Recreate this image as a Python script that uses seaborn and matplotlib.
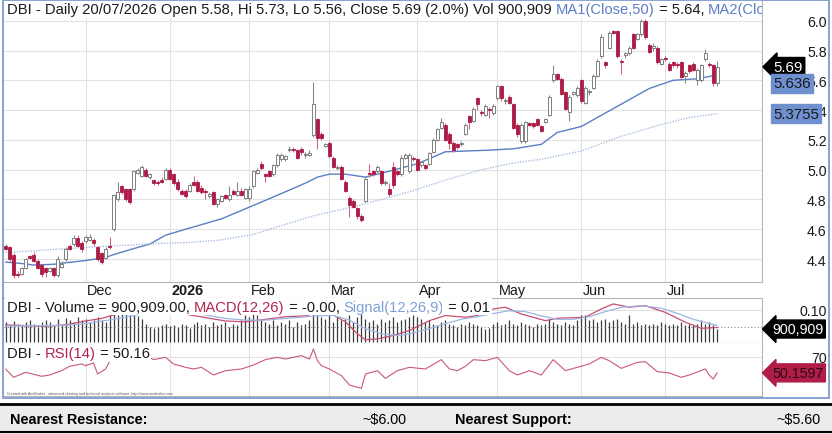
import matplotlib
matplotlib.use("Agg")
import numpy as np
import pandas as pd
import matplotlib.pyplot as plt
import seaborn as sns
from matplotlib import transforms
from matplotlib.patches import Rectangle

# ---- data ----
holidays = ["2025-12-25", "2025-12-26", "2026-01-01", "2026-01-26",
            "2026-04-03", "2026-04-06", "2026-06-08"]

opens = [4.49, 4.48, 4.43, 4.30, 4.30, 4.34, 4.42, 4.43, 4.39, 4.36,
         4.34, 4.32, 4.34, 4.29, 4.35, 4.40, 4.49, 4.50, 4.54, 4.51,
         4.52, 4.53, 4.53, 4.48, 4.44, 4.41, 4.49, 4.60, 4.80, 4.89,
         4.87, 4.87, 4.87, 4.98, 4.96, 5.00, 4.95, 4.93, 4.92, 4.93,
         4.94, 5.00, 4.97, 4.92, 4.86, 4.86, 4.86, 4.92, 4.92, 4.88,
         4.86, 4.82, 4.85, 4.77, 4.79, 4.83, 4.80, 4.86, 4.83, 4.86,
         4.81, 4.81, 4.89, 4.98, 5.04, 4.97, 4.99, 4.97, 5.03, 5.07,
         5.07, 5.13, 5.14, 5.13, 5.14, 5.10, 5.10, 5.23, 5.34, 5.24,
         5.16, 5.18, 5.08, 5.01, 5.02, 4.92, 4.81, 4.79, 4.74, 4.69,
         4.79, 4.98, 4.99, 4.99, 4.99, 4.91, 4.87, 5.02, 4.99, 4.97,
         5.08, 4.99, 5.08, 5.07, 5.03, 5.03, 5.04, 5.12, 5.20, 5.28,
         5.30, 5.24, 5.18, 5.17, 5.17, 5.24, 5.36, 5.33, 5.48, 5.39,
         5.37, 5.41, 5.38, 5.48, 5.56, 5.46, 5.49, 5.44, 5.30, 5.19,
         5.19, 5.31, 5.31, 5.34, 5.29, 5.32, 5.37, 5.60, 5.64, 5.61,
         5.52, 5.39, 5.51, 5.50, 5.60, 5.45, 5.52, 5.55, 5.63, 5.76,
         5.72, 5.82, 5.93, 5.93, 5.73, 5.77, 5.78, 5.91, 5.88, 5.91,
         6.00, 5.84, 5.82, 5.82, 5.71, 5.75, 5.71, 5.72, 5.71, 5.72,
         5.63, 5.70, 5.71, 5.60, 5.60, 5.74, 5.71, 5.70, 5.58]
highs = [4.50, 4.49, 4.44, 4.32, 4.35, 4.41, 4.43, 4.45, 4.40, 4.37,
         4.35, 4.35, 4.35, 4.42, 4.39, 4.48, 4.50, 4.56, 4.56, 4.52,
         4.56, 4.57, 4.54, 4.49, 4.45, 4.48, 4.55, 4.84, 4.92, 4.90,
         4.88, 4.88, 5.00, 5.01, 5.03, 5.01, 4.98, 4.94, 4.93, 4.95,
         5.01, 5.01, 4.98, 4.94, 4.87, 4.87, 4.91, 4.96, 4.93, 4.90,
         4.87, 4.85, 4.86, 4.81, 4.83, 4.84, 4.89, 4.87, 4.92, 4.88,
         4.88, 4.89, 5.00, 5.01, 5.06, 4.98, 5.00, 5.04, 5.11, 5.11,
         5.10, 5.16, 5.15, 5.14, 5.15, 5.12, 5.13, 5.59, 5.35, 5.25,
         5.18, 5.19, 5.09, 5.03, 5.03, 4.93, 4.82, 4.80, 4.75, 4.70,
         4.96, 5.04, 5.00, 5.03, 5.00, 4.93, 4.91, 5.05, 5.00, 5.10,
         5.11, 5.11, 5.09, 5.08, 5.06, 5.04, 5.12, 5.21, 5.28, 5.35,
         5.31, 5.25, 5.19, 5.18, 5.19, 5.31, 5.37, 5.42, 5.49, 5.40,
         5.44, 5.42, 5.44, 5.57, 5.57, 5.48, 5.50, 5.45, 5.31, 5.31,
         5.33, 5.32, 5.32, 5.35, 5.30, 5.35, 5.50, 5.70, 5.65, 5.62,
         5.53, 5.50, 5.53, 5.56, 5.61, 5.56, 5.54, 5.64, 5.74, 5.91,
         5.73, 5.93, 5.94, 5.94, 5.74, 5.79, 5.83, 5.92, 5.92, 6.01,
         6.01, 5.85, 5.85, 5.83, 5.75, 5.76, 5.72, 5.73, 5.72, 5.73,
         5.66, 5.71, 5.72, 5.68, 5.71, 5.81, 5.72, 5.71, 5.73]
lows = [4.46, 4.39, 4.27, 4.28, 4.29, 4.33, 4.40, 4.38, 4.33, 4.28,
        4.28, 4.31, 4.28, 4.28, 4.34, 4.39, 4.46, 4.49, 4.48, 4.45,
        4.51, 4.52, 4.49, 4.39, 4.37, 4.40, 4.47, 4.59, 4.79, 4.84,
        4.79, 4.77, 4.86, 4.97, 4.95, 4.95, 4.94, 4.90, 4.90, 4.91,
        4.93, 4.93, 4.90, 4.86, 4.83, 4.81, 4.85, 4.89, 4.85, 4.84,
        4.80, 4.81, 4.76, 4.75, 4.78, 4.80, 4.79, 4.83, 4.82, 4.82,
        4.80, 4.79, 4.88, 4.97, 5.00, 4.92, 4.95, 4.96, 5.02, 5.06,
        5.06, 5.12, 5.12, 5.07, 5.10, 5.08, 5.09, 5.22, 5.14, 5.20,
        5.15, 5.08, 5.01, 5.00, 4.93, 4.85, 4.68, 4.74, 4.67, 4.65,
        4.78, 4.95, 4.96, 4.98, 4.90, 4.90, 4.82, 4.88, 4.96, 4.96,
        5.07, 4.98, 5.06, 4.99, 5.02, 5.00, 5.03, 5.11, 5.19, 5.27,
        5.19, 5.14, 5.12, 5.14, 5.16, 5.23, 5.27, 5.32, 5.40, 5.36,
        5.36, 5.35, 5.37, 5.47, 5.46, 5.44, 5.44, 5.27, 5.22, 5.18,
        5.18, 5.29, 5.28, 5.29, 5.25, 5.31, 5.36, 5.59, 5.60, 5.50,
        5.40, 5.33, 5.50, 5.49, 5.45, 5.44, 5.50, 5.54, 5.62, 5.75,
        5.68, 5.81, 5.91, 5.75, 5.64, 5.75, 5.77, 5.81, 5.87, 5.90,
        5.88, 5.78, 5.80, 5.71, 5.70, 5.73, 5.66, 5.69, 5.68, 5.61,
        5.58, 5.65, 5.66, 5.57, 5.59, 5.73, 5.69, 5.56, 5.56]
closes = [4.47, 4.40, 4.29, 4.29, 4.34, 4.40, 4.41, 4.39, 4.34, 4.30,
          4.31, 4.34, 4.29, 4.40, 4.37, 4.47, 4.47, 4.54, 4.49, 4.47,
          4.55, 4.55, 4.51, 4.40, 4.38, 4.47, 4.48, 4.83, 4.85, 4.85,
          4.80, 4.78, 4.99, 5.00, 5.02, 4.96, 4.97, 4.91, 4.91, 4.92,
          5.00, 4.94, 4.91, 4.87, 4.84, 4.82, 4.90, 4.90, 4.86, 4.85,
          4.85, 4.84, 4.77, 4.80, 4.82, 4.81, 4.83, 4.84, 4.86, 4.83,
          4.87, 4.87, 4.99, 5.00, 5.01, 4.96, 4.96, 5.03, 5.10, 5.10,
          5.09, 5.14, 5.13, 5.08, 5.12, 5.10, 5.11, 5.44, 5.21, 5.21,
          5.17, 5.09, 5.02, 5.02, 4.94, 4.86, 4.76, 4.75, 4.69, 4.66,
          4.94, 4.97, 4.97, 5.02, 4.91, 4.92, 4.84, 4.90, 4.97, 5.08,
          5.10, 5.10, 5.07, 5.00, 5.05, 5.01, 5.11, 5.20, 5.27, 5.32,
          5.20, 5.18, 5.13, 5.15, 5.17, 5.30, 5.32, 5.41, 5.44, 5.38,
          5.43, 5.40, 5.43, 5.56, 5.48, 5.46, 5.45, 5.28, 5.24, 5.30,
          5.32, 5.30, 5.29, 5.30, 5.26, 5.34, 5.49, 5.64, 5.61, 5.51,
          5.41, 5.49, 5.52, 5.55, 5.46, 5.55, 5.52, 5.63, 5.73, 5.89,
          5.70, 5.92, 5.92, 5.76, 5.72, 5.78, 5.82, 5.82, 5.91, 6.00,
          5.89, 5.79, 5.83, 5.72, 5.74, 5.74, 5.67, 5.70, 5.70, 5.62,
          5.65, 5.66, 5.67, 5.67, 5.70, 5.78, 5.70, 5.58, 5.69]
volume = [1390, 1160, 1440, 1250, 1160, 1390, 1500, 1250, 1160, 1390,
          1500, 1390, 1160, 1620, 1270, 1680, 1500, 1390, 1740, 1560,
          1620, 1390, 1500, 1740, 1560, 1390, 1850, 1970, 1850, 1970,
          1970, 1900, 1850, 1800, 1620, 1270, 1040, 980, 1040, 1160,
          1270, 1100, 1160, 1040, 1270, 1160, 1000, 1270, 1390, 1160,
          1270, 1040, 1390, 1160, 1270, 1390, 1040, 1270, 1160, 1500,
          1850, 1740, 1970, 1850, 1620, 1390, 1270, 1500, 1160, 1390,
          1270, 1500, 1040, 1390, 1160, 1270, 1500, 1970, 1850, 1740,
          1620, 1850, 1390, 1740, 1500, 1620, 1850, 1390, 1740, 1970,
          1620, 1390, 1500, 1270, 1620, 1390, 1500, 1740, 1390, 1500,
          1620, 1740, 1850, 1740, 1620, 1390, 1500, 1270, 1160, 1390,
          1500, 1270, 1160, 1040, 1270, 1160, 1390, 1270, 1160, 1040,
          930, 980, 1270, 1390, 1160, 1270, 1500, 1270, 1160, 1390,
          1270, 1160, 1040, 1270, 1160, 1270, 1620, 1390, 1270, 1160,
          1390, 1270, 1160, 1500, 1850, 1850, 1500, 1620, 1390, 1500,
          1620, 1390, 1500, 1620, 1390, 1270, 1850, 1270, 1390, 1160,
          1270, 1160, 1270, 1160, 1390, 1270, 1160, 1270, 1160, 1390,
          1160, 1270, 1160, 1270, 1500, 1270, 1390, 1160, 900.909]

# moving averages (bar index, value)
ma1_x = [0, 4, 7, 12, 15, 20, 25, 27, 32, 36, 40, 45, 54, 62, 69, 75, 78, 81,
         85, 90, 96, 103, 110, 120, 127, 134, 138, 144, 150, 156, 161, 167, 173, 178]
ma1_y = [4.38, 4.37, 4.36, 4.365, 4.375, 4.39, 4.41, 4.43, 4.47, 4.50, 4.56, 4.60,
         4.67, 4.76, 4.84, 4.91, 4.95, 4.97, 4.97, 4.95, 4.99, 5.04, 5.12, 5.13,
         5.14, 5.17, 5.25, 5.29, 5.38, 5.47, 5.545, 5.60, 5.61, 5.636]
ma2_x = [0, 7, 15, 24, 32, 38, 45, 53, 62, 69, 77, 86, 94, 102, 110, 119, 127,
         134, 144, 154, 165, 171, 178]
ma2_y = [4.445, 4.455, 4.47, 4.485, 4.495, 4.505, 4.51, 4.525, 4.565, 4.625, 4.69,
         4.745, 4.80, 4.86, 4.93, 5.00, 5.045, 5.07, 5.125, 5.225, 5.31, 5.35, 5.3755]

# MACD(12,26) and signal line (bar index, value)
macd_x = [0, 5, 10, 15, 20, 24, 27, 30, 35, 40, 45, 50, 55, 60, 65, 70, 75, 78,
          82, 85, 88, 90, 93, 97, 101, 106, 110, 115, 118, 121, 125, 129, 135,
          138, 145, 149, 152, 156, 160, 165, 170, 174, 178]
macd_y = [0.012, 0.008, 0.005, 0.012, 0.035, 0.05, 0.07, 0.09, 0.11, 0.10, 0.075,
          0.055, 0.035, 0.03, 0.045, 0.06, 0.065, 0.085, 0.07, 0.03, -0.04, -0.075,
          -0.07, -0.05, -0.021, 0.037, 0.067, 0.057, 0.067, 0.102, 0.116, 0.076,
          0.037, 0.051, 0.057, 0.106, 0.135, 0.116, 0.125, 0.086, 0.028, -0.008, -0.003]
sig_x = [0, 10, 15, 20, 27, 35, 45, 50, 55, 60, 65, 70, 78, 82, 86, 90, 94, 98,
         101, 106, 110, 114, 118, 121, 126, 130, 134, 138, 142, 146, 150, 154,
         159, 164, 168, 172, 178]
sig_y = [0.005, 0.008, 0.010, 0.02, 0.045, 0.08, 0.085, 0.07, 0.05, 0.04, 0.04,
         0.05, 0.065, 0.068, 0.04, -0.01, -0.04, -0.05, -0.04, -0.01, 0.02, 0.045,
         0.06, 0.075, 0.095, 0.09, 0.065, 0.045, 0.045, 0.06, 0.09, 0.115, 0.125,
         0.11, 0.08, 0.045, 0.008]

# RSI(14) (bar index, value)
rsi_x = [0, 2, 5, 9, 11, 14, 16, 19, 20, 22, 23, 25, 26, 27, 30, 34, 37, 40, 42,
         45, 47, 49, 52, 55, 59, 62, 65, 68, 70, 74, 76, 77, 78, 79, 81, 84, 86,
         89, 90, 93, 95, 98, 101, 105, 109, 111, 113, 115, 117, 120, 123, 126,
         128, 131, 134, 137, 140, 143, 146, 149, 151, 154, 158, 160, 163, 166,
         169, 171, 175, 176, 177, 178]
rsi_y = [55, 44.6, 50.9, 45.9, 47.5, 52.9, 58.3, 61.3, 59.2, 62.5, 48.7, 55, 64.2,
         78, 72, 74, 66.7, 69.6, 61.3, 57.1, 55, 57.1, 47.5, 52.9, 55, 60, 66.7,
         69.6, 67.5, 71.7, 67.5, 80, 65.4, 59.2, 55, 46.7, 35, 30.8, 48.7, 52.9,
         43.3, 52.9, 57.1, 55, 66.7, 55, 52.9, 58.3, 66.7, 65.4, 69.6, 52.9, 47.5,
         52.9, 47.5, 66.7, 52.9, 57.1, 61.3, 69.6, 65.4, 55.8, 63.3, 64.2, 51.7,
         50, 44.6, 47.5, 55, 47.5, 42.5, 50.16]

# ---- figure ----
sns.set_theme(style="white")
plt.rcParams["font.family"] = ["Liberation Sans", "DejaVu Sans"]

W, H = 832, 435
fig = plt.figure(figsize=(W / 100, H / 100), dpi=100)


def box(l, t, r, b):
    return [l / W, 1 - b / H, (r - l) / W, (b - t) / H]


dates = pd.bdate_range("2025-11-03", "2026-07-20")
dates = dates[~dates.isin(pd.to_datetime(holidays))]
n = len(closes)
idx = np.arange(n)
month_pos = [i for i in range(1, n) if dates[i].month != dates[i - 1].month]
month_lab = ["2026" if dates[i].month == 1 else dates[i].strftime("%b") for i in month_pos]

o, h, l, c = map(np.array, (opens, highs, lows, closes))
vol = np.array(volume) * 1000

GRID = "#e2e2e2"
SPINE = "#b4b4b4"
DOWN = "#ad1a44"
DOWN_WICK = "#cf6a88"
UP_EDGE = "#6c6c6c"
BLUE = "#5b7fc4"
LBLUE = "#a9bde2"
TXT = "#1a1a1a"
FS = 10.6

ax_p = fig.add_axes(box(4, 1, 762, 283))
ax_v = fig.add_axes(box(4, 299, 762, 345))
ax_r = fig.add_axes(box(4, 345, 762, 397))
xlim = (-0.4, 189.2)

for ax in (ax_p, ax_v, ax_r):
    ax.set_xlim(*xlim)
    ax.set_xticks(month_pos)
    ax.set_xticklabels([])
    ax.tick_params(axis="both", length=0)
    ax.grid(True, axis="x", color=GRID, lw=0.8)
    ax.set_facecolor("white")
    for s in ax.spines.values():
        s.set_color(SPINE)
        s.set_linewidth(0.8)
    ax.spines["left"].set_visible(False)


def right_ticks(ax, ticks, labels):
    ax.set_yticks(ticks)
    ax.set_yticklabels(labels)
    ax.yaxis.tick_right()
    ax.tick_params(axis="y", length=0, pad=46.5, labelsize=10.2, labelcolor=TXT)
    for lbl in ax.get_yticklabels():
        lbl.set_horizontalalignment("right")
    ax.grid(True, axis="y", color=GRID, lw=0.8)
    ax.set_ylabel("")


# price panel
ax_p.set_ylim(4.246, 6.139)
pt = np.arange(4.4, 6.01, 0.2)
right_ticks(ax_p, pt, [f"{v:.1f}" for v in pt])
ax_p.spines["top"].set_visible(False)

up = c >= o
wick_col = np.where(up, "#8a8a8a", DOWN_WICK)
ax_p.vlines(idx, l, h, colors=wick_col, lw=0.8, zorder=3)
body = np.maximum(np.abs(c - o), 0.006)
ax_p.bar(idx, body, bottom=np.minimum(o, c), width=0.72,
         color=np.where(up, "white", DOWN), edgecolor=np.where(up, UP_EDGE, DOWN),
         linewidth=0.6, zorder=4)
sns.lineplot(x=ma1_x, y=ma1_y, ax=ax_p, color=BLUE, lw=1.0, zorder=2)
sns.lineplot(x=ma2_x, y=ma2_y, ax=ax_p, color=LBLUE, lw=1.0, ls=(0, (1, 1)), zorder=2)
ax_p.set_xlabel("")
ax_p.set_ylabel("")

xb = transforms.blended_transform_factory(ax_p.transData, ax_p.transAxes)
for pos, lab in zip(month_pos, month_lab):
    ax_p.text(pos + 0.4, -0.027, lab, transform=xb, ha="left", va="center", fontsize=10.4,
              color=TXT, fontweight="bold" if lab == "2026" else "normal", clip_on=False)

renderer = fig.canvas.get_renderer()


def rich(ax, y, parts, size=FS):
    t = ax.transAxes
    for s, col in parts:
        txt = ax.text(0.004, y, s, color=col, fontsize=size, transform=t, ha="left", va="center",
                      bbox=dict(fc="white", ec="none", pad=1.2), clip_on=True, zorder=10)
        txt.draw(renderer)
        ex = txt.get_window_extent(renderer)
        t = transforms.offset_copy(txt.get_transform(), fig=fig, x=ex.width, units="dots")


pct = (c[-1] / c[-2] - 1) * 100
rich(ax_p, 0.968, [
    (f"DBI - Daily {dates[-1]:%d/%m/%Y} Open {o[-1]:.2f}, Hi {h[-1]:.2f}, Lo {l[-1]:.2f}, "
     f"Close {c[-1]:.2f} ({pct:.1f}%) Vol {vol[-1]:,.0f} ", TXT),
    ("MA1(Close,50)", BLUE), (f" = {ma1_y[-1]:.2f}, ", TXT),
    ("MA2(Close,100)", BLUE)])

yb = transforms.blended_transform_factory(fig.transFigure, ax_p.transData)
ax_p.text(773 / W, c[-1], f"{c[-1]:.2f}", transform=yb, color="white", fontsize=10.8,
          va="center", ha="left", clip_on=False, zorder=12,
          bbox=dict(boxstyle="larrow,pad=0.16", fc="black", ec="black"))
ax_p.annotate(f"{ma1_y[-1]:.3f}", xy=(773 / W, ma1_y[-1]), xycoords=yb, xytext=(0, -6),
              textcoords="offset points", color=TXT, fontsize=10.8, va="center", ha="left",
              annotation_clip=False, zorder=12,
              bbox=dict(boxstyle="square,pad=0.16", fc="#6f90cf", ec="#6f90cf"))
ax_p.annotate(f"{ma2_y[-1]:.4f}", xy=(773 / W, ma2_y[-1]), xycoords=yb,
              color=TXT, fontsize=10.8, va="center", ha="left", annotation_clip=False, zorder=12,
              bbox=dict(boxstyle="square,pad=0.16", fc="#6f90cf", ec="#6f90cf"))

# volume + MACD panel
ax_v.vlines(idx, 0, vol, colors="#3c3c3c", lw=0.9, zorder=3)
ax_v.set_ylim(-0.14e6, 3.06e6)
ax_v.set_yticks([])
ax_m = ax_v.twinx()
ax_m.set_xlim(*xlim)
ax_m.set_ylim(-0.10, 0.17)
ax_m.axhline(0, color="#8a8a8a", lw=0.8, ls=(0, (1, 2)), zorder=1)
sns.lineplot(x=macd_x, y=macd_y, ax=ax_m, color="#c94d72", lw=0.9)
sns.lineplot(x=sig_x, y=sig_y, ax=ax_m, color="#9db7e3", lw=0.9)
right_ticks(ax_m, [0.10], ["0.10"])
for s in ax_m.spines.values():
    s.set_visible(False)
rich(ax_m, 0.815, [("DBI - Volume = 900,909.00, ", TXT), ("MACD(12,26)", "#b3244d"),
                   (f" = {macd_y[-1]:.2f}, ", TXT), ("Signal(12,26,9)", "#7e9fd6"),
                   (f" = {sig_y[-1]:.2f}", TXT)])
yv = transforms.blended_transform_factory(fig.transFigure, ax_v.transData)
ax_v.text(772 / W, vol[-1], f"{vol[-1]:,.0f}", transform=yv, color="white", fontsize=10.3,
          va="center", ha="left", clip_on=False, zorder=12,
          bbox=dict(boxstyle="larrow,pad=0.14", fc="black", ec="black"))

# RSI panel
ax_r.set_ylim(21.25, 86.25)
sns.lineplot(x=rsi_x, y=rsi_y, ax=ax_r, color="#c9587a", lw=0.8)
right_ticks(ax_r, [70], ["70"])
ax_r.spines["top"].set_visible(False)
rich(ax_r, 0.827, [("DBI - ", TXT), ("RSI(14)", "#b3244d"), (f" = {rsi_y[-1]:.2f}", TXT)])
yr = transforms.blended_transform_factory(fig.transFigure, ax_r.transData)
ax_r.text(772 / W, rsi_y[-1], "50.1597", transform=yr, color="#2a0a12", fontsize=10.3,
          va="center", ha="left", clip_on=False, zorder=12,
          bbox=dict(boxstyle="larrow,pad=0.14", fc="#b01d47", ec="#b01d47"))
ax_r.text(0.004, 0.04, "Created with AmiBroker - advanced charting and technical analysis software. "
          "http://www.amibroker.com", transform=ax_r.transAxes, fontsize=2.6, color="#555555")

# outer frame and footer strip
fig.patches.append(Rectangle((2.5 / W, 1 - 398.5 / H), 826.5 / W, 398 / H, transform=fig.transFigure,
                             fill=False, ec="#7f9acb", lw=1.3))
fig.patches.append(Rectangle((0, 0), 1, 1 - 405 / H, transform=fig.transFigure, fc="#ececec", ec="none"))
fig.add_artist(plt.Line2D([0, 1], [1 - 405 / H] * 2, transform=fig.transFigure, color="black", lw=2))
fig.add_artist(plt.Line2D([0, 1], [1 - 432.5 / H] * 2, transform=fig.transFigure, color="black", lw=1.5))
foot = dict(fontsize=10.4, va="center", color="black",
            family=["Liberation Sans Narrow", "Liberation Sans", "DejaVu Sans"])
fig.text(10 / W, 1 - 420 / H, "Nearest Resistance:", fontweight="bold", **foot)
fig.text(362 / W, 1 - 420 / H, "~$6.00", **foot)
fig.text(455 / W, 1 - 420 / H, "Nearest Support:", fontweight="bold", **foot)
fig.text(776 / W, 1 - 420 / H, "~$5.60", **foot)

fig.savefig("out.png", dpi=100)
